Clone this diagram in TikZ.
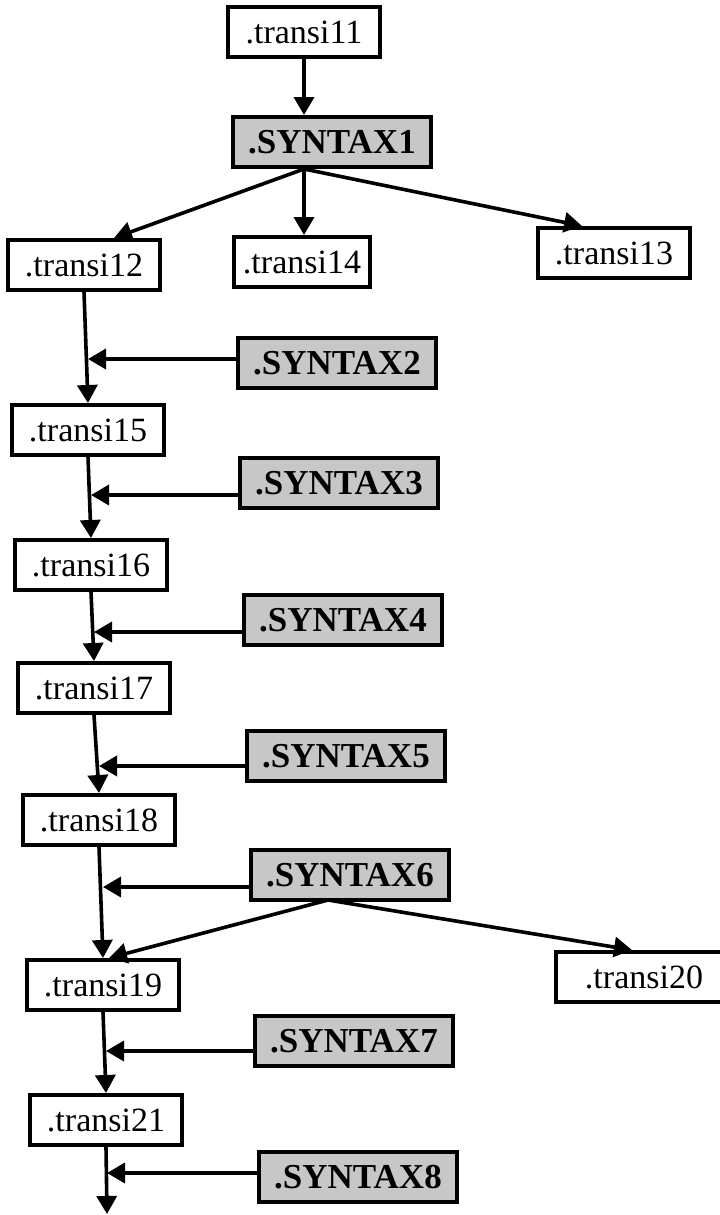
\documentclass[tikz,border=0pt]{standalone}
\usepackage{fontspec}
\setmainfont{Liberation Serif}
\usetikzlibrary{arrows.meta}

\tikzset{
  transbox/.style={draw,line width=2pt,fill=white,inner sep=0pt,
    minimum width=76pt,minimum height=25pt,font=\fontsize{17}{19}\selectfont},
  synbox/.style={transbox,fill=black!22,minimum width=99pt,
    font=\bfseries\fontsize{17.5}{19}\selectfont},
  flow/.style={line width=1.8pt,-{Triangle[length=9pt,width=10pt]}},
}

\begin{document}
\begin{tikzpicture}[x=0.5pt,y=-0.5pt]
\useasboundingbox (0,0) rectangle (719,1215);

% top part
\node[transbox] (t11) at (304,32) {.transi11};
\node[synbox] (s1) at (332,142) {.SYNTAX1};
\node[transbox] (t12) at (84,265) {.transi12};
\node[transbox,minimum width=68pt] (t14) at (302,262) {.transi14};
\node[transbox] (t13) at (614,253) {.transi13};
\coordinate (s1a) at (t11.south |- s1.south);
\draw[flow] (t11.south) -- (t11.south |- s1.north);
\draw[flow] (s1a) -- ([xshift=15pt]t12.north);
\draw[flow] (s1a) -- (s1a |- t14.north);
\draw[flow] (s1a) -- ([xshift=-16pt]t13.north);

% main chain
\node[synbox] (s2) at (337,363) {.SYNTAX2};
\node[transbox] (t15) at (88,430) {.transi15};
\node[synbox] (s3) at (339,483) {.SYNTAX3};
\node[transbox] (t16) at (91,565) {.transi16};
\node[synbox] (s4) at (343,620) {.SYNTAX4};
\node[transbox] (t17) at (94,688) {.transi17};
\node[synbox] (s5) at (346,756) {.SYNTAX5};
\node[transbox] (t18) at (99,820) {.transi18};
\node[synbox] (s6) at (350,875) {.SYNTAX6};
\node[transbox] (t19) at (103,985) {.transi19};
\node[transbox,minimum width=88pt] (t20) at (644,977) {.transi20};
\node[synbox] (s7) at (354,1041) {.SYNTAX7};
\node[transbox] (t21) at (106,1120) {.transi21};
\node[synbox] (s8) at (358,1177) {.SYNTAX8};
\coordinate (out) at (107,1214);

\draw[flow] (t12.south) -- (t15.north);
\draw[flow] (t15.south) -- (t16.north);
\draw[flow] (t16.south) -- (t17.north);
\draw[flow] (t17.south) -- (t18.north);
\draw[flow] (t18.south) -- (t19.north);
\draw[flow] (t19.south) -- (t21.north);
\draw[flow] (t21.south) -- (out);

% side inputs
\draw[flow] ([yshift=2pt]s2.west) -- ([yshift=2pt]s2.west -| t15.north);
\draw[flow] ([yshift=-6pt]s3.west) -- ([yshift=-6pt]s3.west -| t16.north);
\draw[flow] ([yshift=-6pt]s4.west) -- ([yshift=-6pt]s4.west -| t17.north);
\draw[flow] ([yshift=-5pt]s5.west) -- ([yshift=-5pt]s5.west -| t18.north);
\draw[flow] ([yshift=-6pt]s6.west) -- ([yshift=-6pt]s6.west -| t19.north);
\draw[flow] ([yshift=-5pt]s7.west) -- ([yshift=-5pt]s7.west -| t21.north);
\draw[flow] ([yshift=2pt]s8.west) -- ([yshift=2pt]s8.west -| out);

% second fan
\coordinate (s6a) at (328,900);
\draw[flow] (s6a) -- ([xshift=3pt]t19.north);
\draw[flow] (s6a) -- ([xshift=-6pt]t20.north);
\end{tikzpicture}
\end{document}
